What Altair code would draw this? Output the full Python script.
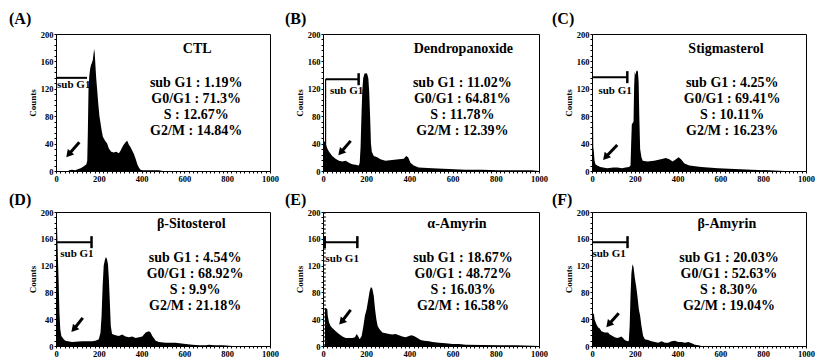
import altair as alt
import pandas as pd

FONT = "Liberation Serif"

# ---------------- data ----------------
A_x = [60, 75, 90, 105, 115, 125, 135, 142, 146, 149, 152, 156, 160, 164, 168, 172, 175, 178, 181, 185, 188, 192, 197,
       203, 208, 213, 219, 228, 239, 247, 258, 270, 281, 294, 302, 313, 325, 333, 341, 348, 356, 364, 372, 380, 387,
       395, 403, 420, 450, 480, 500]
A_y = [1, 2, 1, 3, 4, 6, 8, 10, 15, 60, 120, 140, 150, 155, 158, 162, 170, 178, 172, 150, 135, 120, 100,
       80, 70, 60, 50, 45, 40, 33, 28, 27, 28, 26, 30, 37, 42, 44, 38, 35, 30, 25, 18, 10, 5,
       2, 1, 1, 1, 1, 0]

B_x = [0, 5, 12, 20, 28, 43, 58, 74, 89, 105, 120, 135, 151, 166, 170, 174, 178, 182, 186, 190, 194, 198, 202, 206,
       210, 214, 218, 222, 226, 235, 251, 266, 289, 320, 351, 374, 385, 394, 405, 420, 443, 505, 582, 658, 735, 812,
       900, 966, 1000]
B_y = [45, 44, 40, 33, 28, 22, 18, 15, 14, 15, 12, 10, 9, 8, 12, 35, 80, 118, 135, 140, 143, 142, 143, 140,
       135, 115, 80, 40, 28, 22, 20, 17, 15, 16, 17, 18, 22, 20, 12, 8, 5, 4, 3, 2, 2, 1,
       1, 1, 0]

C_x = [0, 3, 6, 8, 12, 16, 24, 39, 71, 100, 118, 140, 157, 173, 180, 183, 186, 190, 194, 197, 200, 204, 207, 210,
       214, 218, 221, 225, 231, 237, 259, 290, 322, 345, 361, 377, 392, 405, 416, 432, 455, 510, 589, 667, 746, 824,
       900]
C_y = [146, 146, 35, 30, 15, 10, 8, 6, 4, 5, 5, 4, 5, 6, 8, 40, 68, 70, 72, 125, 145, 140, 147, 145,
       147, 130, 80, 32, 20, 15, 14, 15, 17, 19, 17, 14, 17, 20, 17, 11, 8, 6, 4, 3, 2, 1,
       0]

D_x = [0, 3, 6, 9, 12, 16, 20, 25, 36, 44, 75, 122, 169, 184, 200, 208, 213, 218, 223, 228, 233, 238, 243, 247,
       251, 256, 262, 278, 294, 309, 325, 341, 356, 372, 388, 403, 419, 434, 442, 450, 466, 481, 512, 559, 606, 637,
       669, 700, 716, 739, 780, 825]
D_y = [200, 200, 165, 130, 100, 50, 25, 15, 10, 8, 6, 7, 7, 8, 10, 20, 45, 90, 120, 128, 133, 130, 122, 100,
       70, 30, 18, 16, 15, 17, 14, 13, 14, 12, 13, 14, 20, 22, 20, 15, 8, 6, 5, 5, 3, 2,
       1, 1, 2, 1, 1, 0]

E_x = [9, 12, 20, 22, 28, 35, 43, 59, 74, 90, 105, 120, 136, 148, 156, 162, 170, 179, 187, 194, 202, 210, 216, 222,
       228, 235, 241, 247, 253, 262, 275, 290, 306, 321, 336, 352, 367, 383, 398, 409, 421, 437, 452, 468, 491, 506,
       537, 568, 599, 630, 660, 738, 815, 892, 969, 1000]
E_y = [55, 57, 55, 45, 35, 30, 27, 22, 18, 14, 12, 12, 12, 13, 18, 15, 10, 15, 30, 45, 55, 70, 82, 88,
       86, 75, 55, 40, 30, 25, 20, 19, 18, 17, 18, 16, 14, 13, 15, 16, 15, 12, 9, 8, 7, 6,
       5, 4, 3, 3, 2, 1.5, 1, 1, 0.5, 0]

F_x = [0, 9, 12, 20, 28, 36, 44, 59, 75, 83, 90, 106, 119, 130, 137, 145, 153, 161, 168, 172, 176, 180, 184, 189,
       194, 200, 206, 212, 219, 225, 231, 239, 247, 262, 278, 294, 309, 325, 341, 356, 372, 387, 403, 419, 434, 450,
       466, 481, 497, 512]
F_y = [48, 48, 40, 33, 28, 26, 22, 20, 20, 17, 16, 13, 12, 13, 14, 12, 9, 8, 7, 8, 30, 75, 108, 122,
       118, 102, 90, 75, 55, 45, 30, 15, 10, 9, 7, 6, 5, 7, 5, 5, 7, 8, 6, 6, 5, 6,
       4, 2, 1, 0]

HIST_X = [A_x, B_x, C_x, D_x, E_x, F_x]
HIST_Y = [A_y, B_y, C_y, D_y, E_y, F_y]

LETTERS = ["(A)", "(B)", "(C)", "(D)", "(E)", "(F)"]
NAMES = ["CTL", "Dendropanoxide", "Stigmasterol", "β-Sitosterol", "α-Amyrin", "β-Amyrin"]
SUB_G1 = ["1.19%", "11.02%", "4.25%", "4.54%", "18.67%", "20.03%"]
G0_G1 = ["71.3%", "64.81%", "69.41%", "68.92%", "48.72%", "52.63%"]
S_PHASE = ["12.67%", "11.78%", "10.11%", "9.9%", "16.03%", "8.30%"]
G2_M = ["14.84%", "12.39%", "16.23%", "21.18%", "16.58%", "19.04%"]

X_MAJOR = [0, 200, 400, 600, 800, 1000]
Y_MAJOR = [0, 40, 80, 120, 160, 200]

# ---------------- annotation placement (data coordinates) ----------------
LAYOUT = [
    dict(w=214, h=137, ldx=-47, ldy=-10, title=(660, 178), stats=(655, 139), bracket=(0, 145, 136), tick=False,
         lefttick=False, gate=None, label=(5, 125), arrow=(109, 42, 59, 24)),
    dict(w=216, h=137, ldx=-38, ldy=-10, title=(650, 178), stats=(645, 139), bracket=(12, 165, 134), tick=True,
         lefttick=False, gate="solid", label=(32, 117), arrow=(128, 44, 82, 27)),
    dict(w=214, h=137, ldx=-40, ldy=-10, title=(626, 178), stats=(655, 139), bracket=(5, 165, 137), tick=True,
         lefttick=False, gate=None, label=(30, 117), arrow=(118, 38, 63, 20)),
    dict(w=214, h=134, ldx=-47, ldy=-7, title=(632, 182), stats=(650, 142), bracket=(5, 166, 155), tick=True,
         lefttick=False, gate=None, label=(20, 137), arrow=(125, 42, 83, 25)),
    dict(w=216, h=134, ldx=-38, ldy=-7, title=(620, 182), stats=(648, 142), bracket=(9, 159, 155), tick=True,
         lefttick=True, gate="dotted", label=(12, 130), arrow=(128, 54, 86, 36)),
    dict(w=214, h=134, ldx=-40, ldy=-7, title=(630, 182), stats=(640, 142), bracket=(0, 166, 155), tick=True,
         lefttick=False, gate=None, label=(2, 137), arrow=(125, 49, 78, 32)),
]

AXIS_STYLE = dict(
    grid=False, domainColor="black", domainWidth=1, tickColor="black", tickSize=2, tickWidth=1,
    labelFont=FONT, labelFontWeight="bold", labelFontSize=8.5, labelColor="black", labelPadding=1,
    labelFlush=False, labelOverlap=False,
    titleFont=FONT, titleFontWeight="bold", titleFontSize=9, titleColor="black", titlePadding=3,
)


def build(i):
    L = LAYOUT[i]
    px_per_count = L["h"] / 200.0
    xscale = alt.Scale(domain=[0, 1000], nice=False, zero=False)
    yscale = alt.Scale(domain=[0, 200], nice=False, zero=False)
    xaxis = alt.Axis(values=list(range(0, 1001, 20)), format="d", title="",
                     labelExpr="indexof(%s, datum.value) >= 0 ? datum.label : ''" % str(X_MAJOR),
                     **AXIS_STYLE)
    yaxis = alt.Axis(values=list(range(0, 201, 8)), format="d", title="Counts",
                     labelExpr="indexof(%s, datum.value) >= 0 ? datum.label : ''" % str(Y_MAJOR),
                     **AXIS_STYLE)

    def X(f):
        return alt.X(f, type="quantitative", scale=xscale, axis=xaxis)

    def Y(f):
        return alt.Y(f, type="quantitative", scale=yscale, axis=yaxis)

    layers = []

    # sub G1 label (drawn under the histogram)
    lx, ly = L["label"]
    layers.append(alt.Chart(pd.DataFrame({"x": [lx], "y": [ly], "t": ["sub G1"]})).mark_text(
        align="left", baseline="middle", font=FONT, fontWeight="bold", fontSize=11, color="black"
    ).encode(x=X("x"), y=Y("y"), text="t:N"))

    # bracket
    x0, x1, yb = L["bracket"]
    half = 6 / px_per_count
    br = pd.DataFrame({"x0": [x0], "x1": [x1], "y": [yb], "ya": [yb - half], "yc": [yb + half], "z": [0]})
    layers.append(alt.Chart(br).mark_rule(color="black", strokeWidth=2).encode(x=X("x0"), x2="x1", y=Y("y")))
    if L["tick"]:
        layers.append(alt.Chart(br).mark_rule(color="black", strokeWidth=2.5).encode(x=X("x1"), y=Y("ya"), y2="yc"))
    if L["lefttick"]:
        layers.append(alt.Chart(br).mark_rule(color="black", strokeWidth=2).encode(x=X("x0"), y=Y("ya"), y2="yc"))
    if L["gate"] == "solid":
        layers.append(alt.Chart(br).mark_rule(color="black", strokeWidth=1.2).encode(x=X("x0"), y=Y("z"), y2="y"))
    elif L["gate"] == "dotted":
        gd = pd.DataFrame({"x": [x0], "a": [0], "b": [200]})
        layers.append(alt.Chart(gd).mark_rule(color="black", strokeWidth=1, strokeDash=[2, 2]).encode(
            x=X("x"), y=Y("a"), y2="b"))

    # histogram
    hist = pd.DataFrame({"x": HIST_X[i], "y": HIST_Y[i]})
    layers.append(alt.Chart(hist).mark_area(color="black", interpolate="linear", clip=True).encode(
        x=X("x"), y=Y("y")))

    # arrow
    tx, ty, hx, hy = L["arrow"]
    ar = pd.DataFrame({"tx": [tx], "ty": [ty], "hx": [hx], "hy": [hy]})
    layers.append(alt.Chart(ar).mark_rule(color="black", strokeWidth=3).encode(
        x=X("tx"), y=Y("ty"), x2="hx", y2="hy"))
    layers.append(alt.Chart(ar).mark_point(shape="triangle-up", filled=True, color="black", size=70,
                                           angle=221, opacity=1).encode(x=X("hx"), y=Y("hy")))

    # title and statistics
    tx_, ty_ = L["title"]
    layers.append(alt.Chart(pd.DataFrame({"x": [tx_], "y": [ty_], "t": [NAMES[i]]})).mark_text(
        align="center", baseline="middle", font=FONT, fontWeight="bold", fontSize=14, color="black"
    ).encode(x=X("x"), y=Y("y"), text="t:N"))

    stats = "\n".join([f"sub G1 : {SUB_G1[i]}", f"G0/G1 : {G0_G1[i]}",
                       f"S : {S_PHASE[i]}", f"G2/M : {G2_M[i]}"])
    sx, sy = L["stats"]
    layers.append(alt.Chart(pd.DataFrame({"x": [sx], "y": [sy], "t": [stats]})).mark_text(
        align="center", baseline="top", font=FONT, fontWeight="bold", fontSize=14, color="black",
        lineBreak="\n", lineHeight=16
    ).encode(x=X("x"), y=Y("y"), text="t:N"))

    # panel letter
    layers.append(alt.Chart(pd.DataFrame({"t": [LETTERS[i]]})).mark_text(
        align="left", baseline="alphabetic", font=FONT, fontWeight="bold", fontSize=16, color="black"
    ).encode(x=alt.value(L["ldx"]), y=alt.value(L["ldy"]), text="t:N"))

    return alt.layer(*layers).properties(width=L["w"], height=L["h"])


panels = [build(i) for i in range(6)]

chart = alt.concat(
    *panels, columns=3, spacing={"row": 41, "column": 53}, bounds="flush"
).properties(
    padding={"left": 0, "top": 2, "right": 0, "bottom": 0},
    background="white",
).configure_view(
    stroke="black", strokeWidth=1
).configure_axis(**AXIS_STYLE)

chart.save("out.html", embed_options={"renderer": "svg", "actions": False})
